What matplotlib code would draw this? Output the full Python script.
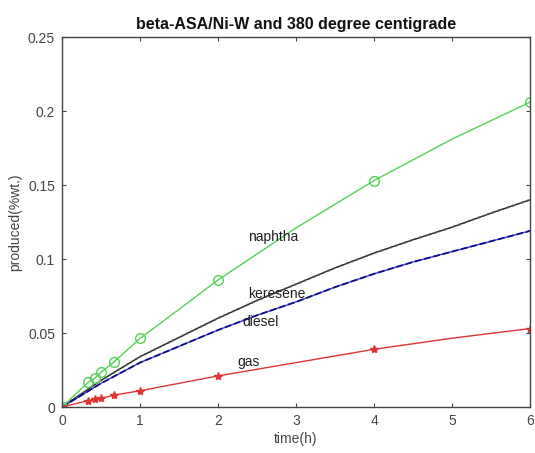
import matplotlib
matplotlib.use('Agg')
import matplotlib.pyplot as plt

plt.rcParams['font.family'] = ['Liberation Sans', 'DejaVu Sans']

# times (h) along the marked curves; markers sit only at the sampled times
t_marked = [0, 1 / 3, 0.42, 0.5, 2 / 3, 1, 1.5, 2, 3, 4, 5, 6]
marker_idx = [0, 1, 2, 3, 4, 5, 7, 9, 11]
naphtha = [0, 0.0166, 0.0195, 0.0234, 0.0305, 0.0463, 0.066, 0.0858,
           0.121, 0.153, 0.181, 0.206]
gas = [0, 0.0043, 0.0054, 0.0058, 0.0080, 0.0110, 0.016, 0.0210,
       0.030, 0.0390, 0.0465, 0.0530]

t_curve = [0, 0.5, 1, 1.5, 2, 2.5, 3, 3.5, 4, 4.5, 5, 5.5, 6]
keresene = [0, 0.018, 0.034, 0.047, 0.060, 0.072, 0.083, 0.094, 0.104,
            0.113, 0.1215, 0.131, 0.140]
diesel = [0, 0.016, 0.030, 0.041, 0.052, 0.062, 0.071, 0.081, 0.090,
          0.098, 0.105, 0.112, 0.119]

label_names = ['naphtha', 'keresene', 'diesel', 'gas']
label_pos = [(2.38, 0.115), (2.38, 0.0764), (2.31, 0.0574), (2.25, 0.0304)]

axis_grey = '#454545'

fig = plt.figure(figsize=(5.35, 4.53), dpi=100)
ax = fig.add_axes([0.1159, 0.1015, 0.8748, 0.8168])

ax.plot(t_curve, keresene, '-', color='#222222', lw=1.0)
ax.plot(t_curve, keresene, ':', color='#555555', lw=1.4)
ax.plot(t_curve, diesel, '-', color='#3a3ad0', lw=1.0)
ax.plot(t_curve, diesel, '--', color='#10108a', lw=1.3)
ax.plot(t_marked, naphtha, '-o', color='#55d155', lw=1.0, markevery=marker_idx,
        markersize=7, markerfacecolor='none', markeredgewidth=1.0)
ax.plot(t_marked, gas, '-*', color='#e03535', lw=1.0, markevery=marker_idx,
        markersize=6, markeredgewidth=1.0)

for name, (x, y) in zip(label_names, label_pos):
    ax.text(x, y, name, fontsize=10, color='#202020', va='center', ha='left')

ax.set_xlim(0, 6)
ax.set_ylim(0, 0.25)
ax.set_xticks([0, 1, 2, 3, 4, 5, 6])
ax.set_yticks([0, 0.05, 0.1, 0.15, 0.2, 0.25])
ax.set_yticklabels(['0', '0.05', '0.1', '0.15', '0.2', '0.25'])
ax.tick_params(direction='in', top=True, right=True, length=3,
               colors=axis_grey, labelsize=10, pad=5)
for side in ax.spines.values():
    side.set_color(axis_grey)
    side.set_linewidth(1.0)

ax.set_xlabel('time(h)', fontsize=10, color=axis_grey, labelpad=3)
ax.set_ylabel('produced(%wt.)', fontsize=10, color=axis_grey, labelpad=4)
ax.set_title('beta-ASA/Ni-W and 380 degree centigrade', fontsize=11.5,
             fontweight='bold', color='#111111', pad=6)

fig.savefig('out.png', dpi=100)
